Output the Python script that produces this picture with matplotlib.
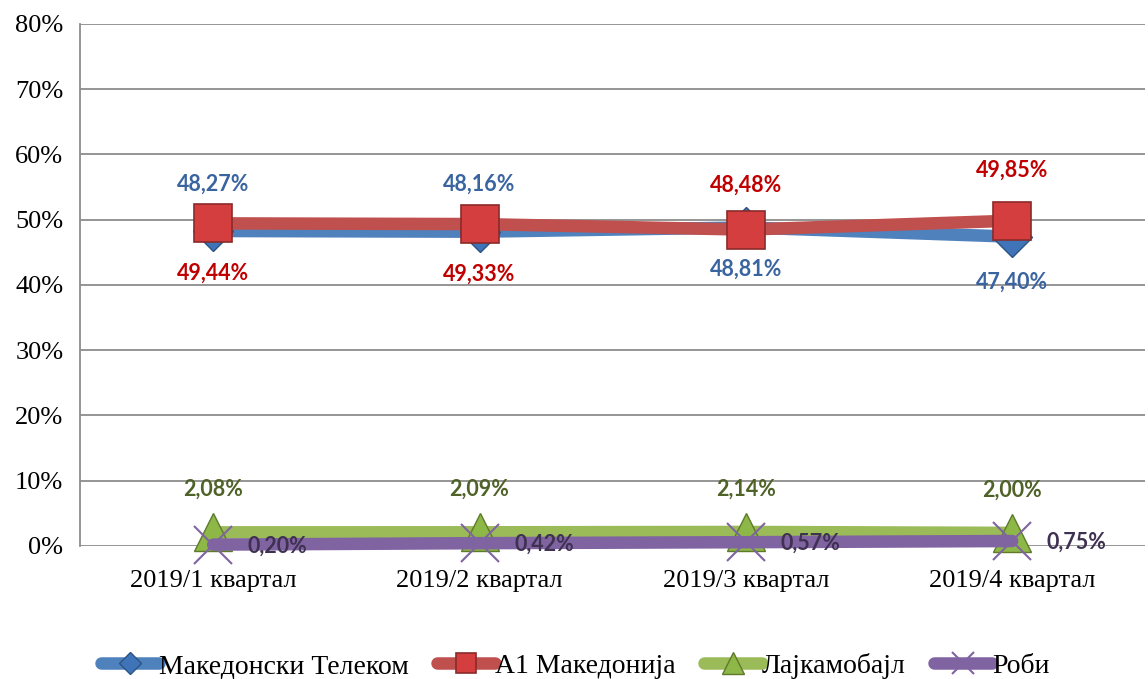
import matplotlib.pyplot as plt
from matplotlib.ticker import FuncFormatter

categories = ['2019/1 квартал', '2019/2 квартал', '2019/3 квартал', '2019/4 квартал']
telekom = [48.27, 48.16, 48.81, 47.40]
a1 = [49.44, 49.33, 48.48, 49.85]
lyca = [2.08, 2.09, 2.14, 2.00]
robi = [0.20, 0.42, 0.57, 0.75]
names = ['Македонски Телеком', 'А1 Македонија', 'Лајкамобајл', 'Роби']
yticks = [0, 10, 20, 30, 40, 50, 60, 70, 80]

fig = plt.figure(figsize=(11.48, 6.79), dpi=100)
ax = fig.add_axes([0.0697, 0.196, 0.928, 0.7687])

x = range(len(categories))
lw = 9

ax.plot(x, telekom, color='#4F81BD', lw=lw, solid_capstyle='round', marker='D', ms=20,
        mfc='#3F74B8', mec='#2B5486', mew=1, label=names[0], zorder=3, clip_on=False)
ax.plot(x, a1, color='#C0504D', lw=lw, solid_capstyle='round', marker='s', ms=27,
        mfc='#D43E3E', mec='#8B2A2A', mew=1.2, label=names[1], zorder=4, clip_on=False)
ax.plot(x, lyca, color='#9BBB59', lw=lw, solid_capstyle='round', marker='^', ms=28,
        mfc='#8DB848', mec='#5F7A2A', mew=1, label=names[2], zorder=5, clip_on=False)
ax.plot(x, robi, color='#8064A2', lw=lw, solid_capstyle='round', marker='x', ms=28,
        mec='#8064A2', mew=1.5, label=names[3], zorder=6, clip_on=False)

def pct(v):
    return f'{v:.2f}%'.replace('.', ',')

lab_font = dict(family=['Lato', 'DejaVu Sans'], fontsize=15.5, fontweight='bold', zorder=10)
tel_off = [34, 34, -30, -33]
a1_off = [-36, -36, 32, 36]
for i in x:
    ax.annotate(pct(telekom[i]), (i, telekom[i]), xytext=(0, tel_off[i]), textcoords='offset points',
                ha='center', va='center', color='#3A64A0', **lab_font)
    ax.annotate(pct(a1[i]), (i, a1[i]), xytext=(0, a1_off[i]), textcoords='offset points',
                ha='center', va='center', color='#C00000', **lab_font)
    ax.annotate(pct(lyca[i]), (i, lyca[i]), xytext=(0, 31), textcoords='offset points',
                ha='center', va='center', color='#4F6228', **lab_font)
    ax.annotate(pct(robi[i]), (i, robi[i]), xytext=(25, -1), textcoords='offset points',
                ha='left', va='center', color='#3F3151', **lab_font)

ax.set_xlim(-0.5, 3.5)
ax.set_ylim(0, 80)
ax.set_yticks(yticks)
ax.yaxis.set_major_formatter(FuncFormatter(lambda v, p: f'{int(v)}%'))
ax.set_xticks(list(x))
ax.set_xticklabels(categories)
ax.tick_params(length=0, labelsize=19)
ax.tick_params(axis='x', pad=17)
ax.tick_params(axis='y', pad=12)
for t in ax.get_xticklabels() + ax.get_yticklabels():
    t.set_family(['Liberation Serif', 'DejaVu Serif'])
ax.grid(axis='y', color='#8C8C8C', lw=1.3)
ax.set_axisbelow(True)
for s in ['top', 'right', 'bottom']:
    ax.spines[s].set_visible(False)
ax.spines['left'].set_color('#8C8C8C')
ax.spines['left'].set_linewidth(1.3)

leg = fig.legend(loc='lower center', ncol=4, frameon=False, bbox_to_anchor=(0.501, -0.037),
                 prop={'family': ['Liberation Serif', 'DejaVu Serif'], 'size': 20},
                 handlelength=2.1, handletextpad=0.0, columnspacing=1.0, markerscale=0.55)

fig.savefig('out.png', dpi=100)
